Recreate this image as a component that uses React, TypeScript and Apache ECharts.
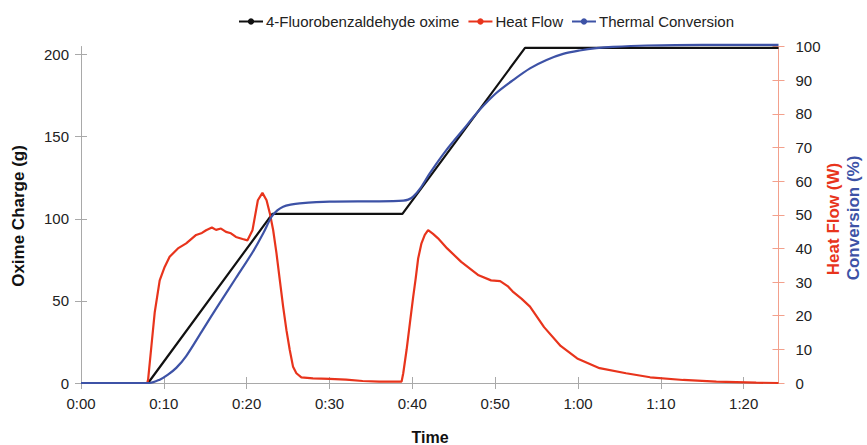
import React, { useEffect, useRef } from "react";
import * as echarts from "echarts";

// time in minutes, oxime charge in g
const oximeTime = [0, 8.1, 23.1, 38.8, 53.6, 84.2];
const oximeCharge = [0, 0, 103, 103, 204, 204];

// time in minutes, heat flow in W
const heatTime = [
  0, 8.0, 8.1, 8.5, 8.9, 9.5, 10.1, 10.7, 11.7, 12.7, 13.9, 14.6, 15.1, 15.8, 16.3, 16.9, 17.5, 18.1, 18.7,
  19.5, 20.1, 20.7, 21.35, 21.9, 22.4, 22.8, 23.2, 23.6, 24.0, 24.4, 24.8, 25.2, 25.6, 26.0, 26.6,
  28, 30, 32, 34, 36, 38.7, 38.9, 39.3, 39.7, 40.1, 40.4, 40.7, 41.1, 41.5, 41.9, 42.5, 43.1, 44.2,
  45.9, 48, 49.5, 50.6, 51.5, 52.2, 53.2, 54.2, 55.9, 57.9, 59.9, 62.6, 65.8, 68.7, 72.7, 76.7, 81.5, 84.2,
];
const heatFlow = [
  0, 0, 1, 11, 21, 30.5, 34.5, 37.5, 40, 41.5, 44, 44.6, 45.4, 46.2, 45.5, 45.9, 44.9, 44.5, 43.4,
  42.8, 42.4, 45.4, 54.3, 56.5, 54.3, 50.4, 45.4, 38.5, 30.6, 22.7, 15.7, 9.8, 4.8, 2.9, 1.7,
  1.4, 1.2, 1.0, 0.6, 0.4, 0.4, 2.9, 9.8, 17.7, 25.6, 31, 37, 41.5, 44, 45.4, 44.3, 43, 40,
  36, 32, 30.5, 30.3, 28.8, 27, 25, 22.7, 16.6, 11, 7.3, 4.4, 2.9, 1.7, 0.9, 0.4, 0.1, 0,
];

// time in minutes, thermal conversion in %
const convTime = [
  0, 8.3, 9.5, 10.5, 11.5, 12.7, 14.7, 16.7, 18.7, 20.75, 22, 23, 23.7, 24.4, 25.3, 26.4, 30, 36, 38.9,
  39.5, 40.1, 41, 42.1, 44.1, 46.1, 48.1, 50.1, 52.15, 54.2, 56.2, 58.2, 60.2, 62.2, 64.2, 68.3, 75, 84.2,
];
const conversion = [
  0, 0, 1, 2.5, 4.5, 8, 15.8, 23.6, 31.2, 39, 44.5, 49.4, 51.3, 52.4, 53, 53.4, 53.9, 54, 54.2,
  54.5, 55.4, 58, 62.3, 69.2, 75.2, 81.1, 86.1, 90, 93.5, 96, 97.8, 98.8, 99.5, 99.9, 100.3, 100.5, 100.5,
];

const xTicks = [0, 10, 20, 30, 40, 50, 60, 70, 80];
const seriesNames = ["4-Fluorobenzaldehyde oxime", "Heat Flow", "Thermal Conversion"];

const X_MAX = 84.2;
const LEFT_MAX = 200;
const LEFT_STEP = 50;
const RIGHT_MAX = 100;
const RIGHT_STEP = 10;

const RED = "#e8341c";
const BLUE = "#3d52a6";
const BLACK = "#111111";
const GRAY = "#a9a9a9";
const SALMON = "#f3a08c";
const FONT = "Liberation Sans, Arial, sans-serif";

const zip = (xs: number[], ys: number[]) => xs.map((x, i) => [x, ys[i]]);
const fmtTime = (v: number) => {
  const h = Math.floor(v / 60);
  const m = Math.round(v % 60);
  return h + ":" + (m < 10 ? "0" + m : String(m));
};

export default function App() {
  const ref = useRef<HTMLDivElement>(null);
  useEffect(() => {
    if (!ref.current) return;
    const chart = echarts.init(ref.current, null, { renderer: "svg" });
    const labelStyle = { fontFamily: FONT, fontSize: 15, color: "#222" };
    const hidden = {
      axisLine: { show: false, onZero: false },
      axisTick: { show: false },
      axisLabel: { show: false },
      splitLine: { show: false },
    };
    chart.setOption({
      animation: false,
      backgroundColor: "#ffffff",
      grid: [
        { left: 81, right: 88.5, top: 54.5, bottom: 62 },
        { left: 81, right: 88.5, top: 46.5, bottom: 62 },
      ],
      legend: {
        left: 233,
        top: 9,
        itemWidth: 24,
        itemHeight: 8,
        itemGap: 8,
        data: seriesNames,
        textStyle: { fontFamily: FONT, fontSize: 15, color: "#222", padding: [0, 0, 0, -2] },
      },
      xAxis: [
        {
          gridIndex: 0,
          type: "value",
          min: 0,
          max: X_MAX,
          position: "bottom",
          axisLine: { show: true, onZero: false, lineStyle: { color: GRAY, width: 1 } },
          axisTick: { show: true, length: 6, lineStyle: { color: GRAY }, customValues: xTicks },
          axisLabel: { ...labelStyle, margin: 13, customValues: xTicks, formatter: (v: number) => fmtTime(v) },
          splitLine: { show: false },
        },
        {
          gridIndex: 0,
          type: "value",
          min: 0,
          max: X_MAX,
          position: "bottom",
          ...hidden,
          axisTick: { show: true, inside: true, length: 6, lineStyle: { color: GRAY }, customValues: xTicks },
          axisLabel: { show: false, customValues: xTicks },
        },
        { gridIndex: 1, type: "value", min: 0, max: X_MAX, position: "bottom", ...hidden },
      ],
      yAxis: [
        {
          gridIndex: 0,
          type: "value",
          min: 0,
          max: LEFT_MAX,
          interval: LEFT_STEP,
          position: "left",
          axisLine: { show: true, onZero: false, lineStyle: { color: GRAY } },
          axisTick: { show: true, length: 6, lineStyle: { color: GRAY } },
          axisLabel: { ...labelStyle, margin: 12 },
          splitLine: { show: false },
        },
        {
          gridIndex: 0,
          type: "value",
          min: 0,
          max: LEFT_MAX,
          interval: LEFT_STEP,
          position: "left",
          ...hidden,
          axisTick: { show: true, inside: true, length: 6, lineStyle: { color: GRAY } },
        },
        {
          gridIndex: 1,
          type: "value",
          min: 0,
          max: RIGHT_MAX,
          interval: RIGHT_STEP,
          position: "right",
          axisLine: { show: true, onZero: false, lineStyle: { color: SALMON } },
          axisTick: { show: true, length: 6, lineStyle: { color: SALMON } },
          axisLabel: { ...labelStyle, margin: 17 },
          splitLine: { show: false },
        },
        {
          gridIndex: 1,
          type: "value",
          min: 0,
          max: RIGHT_MAX,
          interval: RIGHT_STEP,
          position: "right",
          ...hidden,
          axisTick: { show: true, inside: true, length: 6, lineStyle: { color: SALMON } },
        },
        {
          gridIndex: 1,
          type: "value",
          min: 0,
          max: RIGHT_MAX,
          position: "left",
          ...hidden,
          axisLine: { show: true, onZero: false, lineStyle: { color: GRAY } },
        },
      ],
      series: [
        {
          name: seriesNames[0],
          type: "line",
          xAxisIndex: 0,
          yAxisIndex: 0,
          data: zip(oximeTime, oximeCharge),
          symbol: "circle",
          symbolSize: 3,
          showSymbol: false,
          clip: false,
          lineStyle: { color: BLACK, width: 2.2 },
          itemStyle: { color: BLACK },
          z: 2,
        },
        {
          name: seriesNames[1],
          type: "line",
          xAxisIndex: 2,
          yAxisIndex: 2,
          data: zip(heatTime, heatFlow),
          symbol: "circle",
          symbolSize: 3,
          showSymbol: false,
          clip: false,
          lineStyle: { color: RED, width: 2.2 },
          itemStyle: { color: RED },
          z: 3,
        },
        {
          name: seriesNames[2],
          type: "line",
          xAxisIndex: 2,
          yAxisIndex: 2,
          data: zip(convTime, conversion),
          symbol: "circle",
          symbolSize: 3,
          showSymbol: false,
          clip: false,
          smooth: 0.3,
          lineStyle: { color: BLUE, width: 2.2 },
          itemStyle: { color: BLUE },
          z: 4,
        },
      ],
      graphic: [
        {
          type: "text",
          x: 430,
          y: 437,
          style: { text: "Time", fontFamily: FONT, fontSize: 16, fontWeight: "bold", fill: "#111", align: "center", verticalAlign: "middle" },
        },
        {
          type: "text",
          x: 18,
          y: 216,
          rotation: Math.PI / 2,
          style: { text: "Oxime Charge (g)", fontFamily: FONT, fontSize: 17, fontWeight: "bold", fill: "#111", align: "center", verticalAlign: "middle" },
        },
        {
          type: "text",
          x: 833,
          y: 219,
          rotation: Math.PI / 2,
          style: { text: "Heat Flow (W)", fontFamily: FONT, fontSize: 17, fontWeight: "bold", fill: RED, align: "center", verticalAlign: "middle" },
        },
        {
          type: "text",
          x: 853,
          y: 218,
          rotation: Math.PI / 2,
          style: { text: "Conversion (%)", fontFamily: FONT, fontSize: 17, fontWeight: "bold", fill: BLUE, align: "center", verticalAlign: "middle" },
        },
      ],
    });
    return () => chart.dispose();
  }, []);
  return <div ref={ref} style={{ width: 867, height: 445, position: "absolute", left: 0, top: 0 }} />;
}
